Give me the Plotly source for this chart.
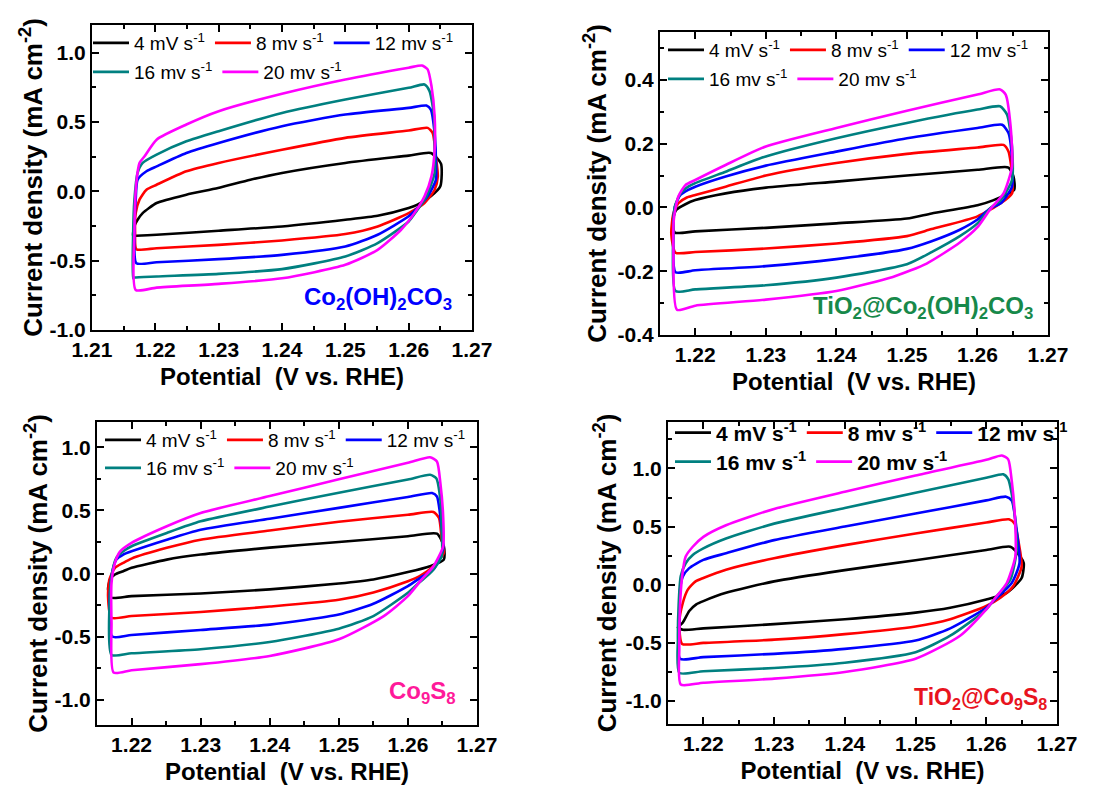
import plotly.graph_objects as go

# ---------------- data ----------------
RATE_LABELS = ["4 mV s<sup>-1</sup>", "8 mv s<sup>-1</sup>", "12 mv s<sup>-1</sup>",
               "16 mv s<sup>-1</sup>", "20 mv s<sup>-1</sup>"]
SAMPLES = ["Co<sub>2</sub>(OH)<sub>2</sub>CO<sub>3</sub>",
           "TiO<sub>2</sub>@Co<sub>2</sub>(OH)<sub>2</sub>CO<sub>3</sub>",
           "Co<sub>9</sub>S<sub>8</sub>",
           "TiO<sub>2</sub>@Co<sub>9</sub>S<sub>8</sub>"]

# y tick values of each panel (labels printed with a plain hyphen as in the reference)
P1_YTICKS = [-1.0, -0.5, 0.0, 0.5, 1.0]
P2_YTICKS = [-0.4, -0.2, 0.0, 0.2, 0.4]
P3_YTICKS = [-1.0, -0.5, 0.0, 0.5, 1.0]
P4_YTICKS = [-1.0, -0.5, 0.0, 0.5, 1.0]

# Panel 1: Co2(OH)2CO3
P1_X_4 = [1.2165, 1.2167, 1.2172, 1.2180, 1.2202, 1.2249, 1.2299, 1.2350, 1.2400, 1.2500, 1.2600, 1.2635, 1.2651, 1.2650, 1.2635, 1.2614, 1.2600, 1.2551, 1.2500, 1.2400, 1.2300, 1.2202, 1.2170, 1.2165]
P1_Y_4 = [-0.320, -0.250, -0.205, -0.157, -0.084, -0.024, 0.024, 0.084, 0.133, 0.205, 0.258, 0.277, 0.200, 0.036, -0.036, -0.096, -0.120, -0.176, -0.205, -0.253, -0.284, -0.313, -0.320, -0.320]
P1_X_8 = [1.2170, 1.2168, 1.2169, 1.2175, 1.2186, 1.2202, 1.2249, 1.2300, 1.2400, 1.2500, 1.2600, 1.2630, 1.2638, 1.2643, 1.2646, 1.2641, 1.2625, 1.2600, 1.2551, 1.2500, 1.2400, 1.2300, 1.2202, 1.2170]
P1_Y_8 = [-0.417, -0.300, -0.157, -0.060, 0.012, 0.048, 0.145, 0.205, 0.300, 0.386, 0.439, 0.458, 0.420, 0.250, 0.108, 0.012, -0.084, -0.157, -0.253, -0.308, -0.354, -0.386, -0.410, -0.417]
P1_X_12 = [1.2170, 1.2167, 1.2169, 1.2172, 1.2186, 1.2202, 1.2249, 1.2300, 1.2400, 1.2500, 1.2600, 1.2628, 1.2635, 1.2641, 1.2643, 1.2643, 1.2630, 1.2614, 1.2600, 1.2551, 1.2500, 1.2400, 1.2300, 1.2202, 1.2170]
P1_Y_12 = [-0.518, -0.300, -0.060, 0.084, 0.145, 0.180, 0.277, 0.349, 0.470, 0.554, 0.602, 0.619, 0.590, 0.420, 0.229, 0.084, -0.036, -0.120, -0.180, -0.313, -0.398, -0.458, -0.489, -0.511, -0.518]
P1_X_16 = [1.2165, 1.2165, 1.2167, 1.2172, 1.2180, 1.2202, 1.2249, 1.2300, 1.2400, 1.2500, 1.2600, 1.2625, 1.2633, 1.2640, 1.2641, 1.2641, 1.2628, 1.2612, 1.2600, 1.2551, 1.2500, 1.2400, 1.2300, 1.2202, 1.2167, 1.2165]
P1_Y_16 = [-0.627, -0.300, -0.060, 0.133, 0.205, 0.265, 0.361, 0.434, 0.566, 0.663, 0.747, 0.771, 0.723, 0.542, 0.300, 0.133, -0.036, -0.145, -0.217, -0.373, -0.470, -0.561, -0.595, -0.614, -0.622, -0.627]
P1_X_20 = [1.2169, 1.2167, 1.2170, 1.2175, 1.2183, 1.2202, 1.2249, 1.2300, 1.2400, 1.2500, 1.2600, 1.2621, 1.2630, 1.2636, 1.2641, 1.2641, 1.2636, 1.2625, 1.2609, 1.2588, 1.2551, 1.2500, 1.2400, 1.2300, 1.2202, 1.2169]
P1_Y_20 = [-0.711, -0.300, 0.060, 0.205, 0.253, 0.373, 0.482, 0.578, 0.704, 0.807, 0.892, 0.908, 0.880, 0.760, 0.542, 0.300, 0.108, -0.036, -0.157, -0.277, -0.422, -0.530, -0.627, -0.667, -0.694, -0.711]

# Panel 2: TiO2@Co2(OH)2CO3
P2_X_4 = [1.2171, 1.2168, 1.2173, 1.2186, 1.2200, 1.2243, 1.2300, 1.2400, 1.2500, 1.2600, 1.2644, 1.2651, 1.2652, 1.2623, 1.2600, 1.2535, 1.2500, 1.2400, 1.2300, 1.2200, 1.2171]
P2_Y_4 = [-0.079, -0.040, -0.008, 0.010, 0.023, 0.044, 0.062, 0.081, 0.100, 0.118, 0.125, 0.097, 0.055, 0.023, 0.007, -0.019, -0.035, -0.050, -0.064, -0.075, -0.079]
P2_X_8 = [1.2172, 1.2166, 1.2169, 1.2176, 1.2188, 1.2200, 1.2243, 1.2300, 1.2400, 1.2500, 1.2600, 1.2637, 1.2644, 1.2649, 1.2649, 1.2633, 1.2600, 1.2535, 1.2500, 1.2400, 1.2300, 1.2200, 1.2172]
P2_Y_8 = [-0.142, -0.082, -0.019, 0.013, 0.031, 0.039, 0.065, 0.100, 0.139, 0.168, 0.188, 0.196, 0.175, 0.107, 0.044, 0.013, -0.028, -0.068, -0.090, -0.113, -0.129, -0.140, -0.142]
P2_X_12 = [1.2172, 1.2169, 1.2171, 1.2179, 1.2190, 1.2200, 1.2243, 1.2300, 1.2400, 1.2500, 1.2600, 1.2635, 1.2644, 1.2649, 1.2649, 1.2633, 1.2618, 1.2600, 1.2575, 1.2535, 1.2500, 1.2400, 1.2300, 1.2200, 1.2172]
P2_Y_12 = [-0.203, -0.080, 0.002, 0.039, 0.055, 0.065, 0.097, 0.131, 0.175, 0.217, 0.249, 0.259, 0.233, 0.149, 0.065, 0.013, -0.003, -0.038, -0.070, -0.106, -0.130, -0.162, -0.184, -0.197, -0.203]
P2_X_16 = [1.2172, 1.2169, 1.2171, 1.2179, 1.2190, 1.2200, 1.2243, 1.2300, 1.2400, 1.2500, 1.2600, 1.2632, 1.2642, 1.2649, 1.2649, 1.2633, 1.2618, 1.2600, 1.2575, 1.2535, 1.2500, 1.2400, 1.2300, 1.2200, 1.2172]
P2_Y_16 = [-0.262, -0.082, 0.002, 0.044, 0.065, 0.076, 0.112, 0.160, 0.217, 0.265, 0.307, 0.317, 0.291, 0.191, 0.086, 0.023, -0.003, -0.050, -0.090, -0.140, -0.178, -0.220, -0.244, -0.257, -0.262]
P2_X_20 = [1.2174, 1.2169, 1.2170, 1.2176, 1.2186, 1.2200, 1.2243, 1.2300, 1.2400, 1.2500, 1.2600, 1.2632, 1.2640, 1.2647, 1.2649, 1.2637, 1.2618, 1.2600, 1.2575, 1.2528, 1.2480, 1.2400, 1.2300, 1.2200, 1.2174]
P2_Y_20 = [-0.321, -0.134, -0.029, 0.034, 0.070, 0.086, 0.133, 0.191, 0.249, 0.303, 0.354, 0.370, 0.354, 0.254, 0.128, 0.044, -0.006, -0.062, -0.110, -0.176, -0.218, -0.262, -0.289, -0.308, -0.321]

# Panel 3: Co9S8
P3_X_4 = [1.2171, 1.2166, 1.2169, 1.2176, 1.2188, 1.2200, 1.2251, 1.2300, 1.2400, 1.2500, 1.2600, 1.2642, 1.2652, 1.2652, 1.2632, 1.2600, 1.2550, 1.2500, 1.2400, 1.2300, 1.2200, 1.2171]
P3_Y_4 = [-0.192, -0.126, -0.047, -0.008, 0.018, 0.045, 0.110, 0.150, 0.205, 0.250, 0.295, 0.316, 0.216, 0.110, 0.058, 0.011, -0.047, -0.079, -0.126, -0.158, -0.179, -0.192]
P3_X_8 = [1.2171, 1.2166, 1.2168, 1.2176, 1.2188, 1.2200, 1.2251, 1.2300, 1.2400, 1.2500, 1.2600, 1.2637, 1.2645, 1.2649, 1.2652, 1.2637, 1.2617, 1.2600, 1.2550, 1.2500, 1.2400, 1.2300, 1.2200, 1.2171]
P3_Y_8 = [-0.350, -0.179, -0.047, 0.045, 0.084, 0.118, 0.203, 0.268, 0.340, 0.410, 0.465, 0.487, 0.440, 0.268, 0.163, 0.058, -0.021, -0.061, -0.150, -0.208, -0.262, -0.305, -0.337, -0.350]
P3_X_12 = [1.2172, 1.2168, 1.2171, 1.2178, 1.2188, 1.2200, 1.2251, 1.2300, 1.2400, 1.2500, 1.2600, 1.2635, 1.2642, 1.2648, 1.2651, 1.2637, 1.2618, 1.2600, 1.2550, 1.2500, 1.2400, 1.2300, 1.2200, 1.2172]
P3_Y_12 = [-0.500, -0.258, -0.021, 0.110, 0.150, 0.176, 0.268, 0.347, 0.434, 0.520, 0.606, 0.637, 0.610, 0.400, 0.190, 0.032, -0.034, -0.100, -0.240, -0.325, -0.405, -0.447, -0.487, -0.500]
P3_X_16 = [1.2171, 1.2168, 1.2171, 1.2178, 1.2188, 1.2200, 1.2251, 1.2300, 1.2400, 1.2500, 1.2600, 1.2632, 1.2641, 1.2647, 1.2649, 1.2649, 1.2635, 1.2616, 1.2600, 1.2550, 1.2500, 1.2400, 1.2300, 1.2200, 1.2171]
P3_Y_16 = [-0.645, -0.258, -0.021, 0.124, 0.176, 0.216, 0.321, 0.413, 0.530, 0.640, 0.745, 0.782, 0.755, 0.584, 0.321, 0.137, 0.018, -0.074, -0.153, -0.337, -0.437, -0.542, -0.600, -0.632, -0.645]
P3_X_20 = [1.2174, 1.2171, 1.2171, 1.2176, 1.2183, 1.2200, 1.2251, 1.2300, 1.2400, 1.2500, 1.2600, 1.2632, 1.2642, 1.2647, 1.2651, 1.2651, 1.2637, 1.2620, 1.2600, 1.2565, 1.2500, 1.2400, 1.2300, 1.2200, 1.2174]
P3_Y_20 = [-0.784, -0.389, -0.074, 0.084, 0.171, 0.242, 0.374, 0.479, 0.613, 0.746, 0.877, 0.921, 0.887, 0.716, 0.453, 0.216, 0.058, -0.047, -0.179, -0.337, -0.521, -0.653, -0.718, -0.766, -0.784]

# Panel 4: TiO2@Co9S8
P4_X_4 = [1.2171, 1.2164, 1.2171, 1.2180, 1.2190, 1.2200, 1.2232, 1.2300, 1.2400, 1.2500, 1.2600, 1.2634, 1.2648, 1.2653, 1.2650, 1.2629, 1.2600, 1.2549, 1.2500, 1.2400, 1.2300, 1.2200, 1.2171]
P4_Y_4 = [-0.389, -0.369, -0.326, -0.227, -0.170, -0.142, -0.071, 0.028, 0.125, 0.210, 0.298, 0.326, 0.241, 0.184, 0.057, -0.071, -0.128, -0.199, -0.241, -0.298, -0.340, -0.377, -0.389]
P4_X_8 = [1.2170, 1.2166, 1.2171, 1.2178, 1.2189, 1.2200, 1.2232, 1.2300, 1.2400, 1.2500, 1.2600, 1.2632, 1.2640, 1.2646, 1.2650, 1.2638, 1.2620, 1.2600, 1.2549, 1.2500, 1.2400, 1.2300, 1.2200, 1.2170]
P4_Y_8 = [-0.511, -0.326, -0.156, -0.043, 0.028, 0.057, 0.128, 0.227, 0.340, 0.440, 0.535, 0.562, 0.525, 0.355, 0.156, -0.014, -0.113, -0.184, -0.298, -0.360, -0.426, -0.474, -0.502, -0.511]
P4_X_12 = [1.2167, 1.2166, 1.2167, 1.2171, 1.2180, 1.2200, 1.2232, 1.2300, 1.2400, 1.2500, 1.2600, 1.2628, 1.2636, 1.2643, 1.2647, 1.2636, 1.2615, 1.2600, 1.2549, 1.2500, 1.2400, 1.2300, 1.2200, 1.2167]
P4_Y_12 = [-0.638, -0.326, -0.043, 0.071, 0.142, 0.213, 0.270, 0.383, 0.500, 0.612, 0.725, 0.757, 0.723, 0.468, 0.184, 0.014, -0.113, -0.199, -0.377, -0.482, -0.553, -0.596, -0.624, -0.638]
P4_X_16 = [1.2166, 1.2164, 1.2165, 1.2168, 1.2175, 1.2185, 1.2200, 1.2232, 1.2300, 1.2400, 1.2500, 1.2600, 1.2624, 1.2631, 1.2639, 1.2643, 1.2634, 1.2613, 1.2600, 1.2549, 1.2500, 1.2400, 1.2300, 1.2200, 1.2166]
P4_Y_16 = [-0.760, -0.468, -0.184, 0.071, 0.184, 0.255, 0.312, 0.397, 0.525, 0.660, 0.790, 0.920, 0.950, 0.908, 0.667, 0.298, 0.043, -0.113, -0.213, -0.440, -0.582, -0.672, -0.718, -0.746, -0.760]
P4_X_20 = [1.2168, 1.2166, 1.2167, 1.2170, 1.2175, 1.2185, 1.2200, 1.2232, 1.2300, 1.2400, 1.2500, 1.2600, 1.2622, 1.2631, 1.2636, 1.2641, 1.2641, 1.2629, 1.2611, 1.2600, 1.2563, 1.2500, 1.2400, 1.2300, 1.2200, 1.2168]
P4_Y_20 = [-0.860, -0.553, -0.184, 0.071, 0.241, 0.326, 0.411, 0.511, 0.652, 0.800, 0.940, 1.075, 1.112, 1.078, 0.894, 0.525, 0.241, 0.014, -0.128, -0.213, -0.440, -0.638, -0.752, -0.809, -0.845, -0.860]

X_TICK_FORMAT = ".2f"

# ---------------- styling / layout ----------------
W, H = 1107, 791
FONT = "Liberation Sans, Arial, sans-serif"
COLORS = ["#000000", "#ff0000", "#0000ff", "#008080", "#ff00ff"]

PANELS = [
    dict(xs=[P1_X_4, P1_X_8, P1_X_12, P1_X_16, P1_X_20],
         ys=[P1_Y_4, P1_Y_8, P1_Y_12, P1_Y_16, P1_Y_20], yticks=P1_YTICKS,
         box=(92, 472, 25, 330), xr=[1.21, 1.27], yr=[-1.0, 1.2], ymin=0.25,
         label_color="#0000ff", label_xy=(378, 298), label_size=24,
         leg_x=88, leg_rows=(43, 72), leg_size=19, leg_bold=False, ystand=0),
    dict(xs=[P2_X_4, P2_X_8, P2_X_12, P2_X_16, P2_X_20],
         ys=[P2_Y_4, P2_Y_8, P2_Y_12, P2_Y_16, P2_Y_20], yticks=P2_YTICKS,
         box=(660, 1048, 32, 335), xr=[1.215, 1.27], yr=[-0.4, 0.55], ymin=0.1,
         label_color="#17894a", label_xy=(923, 307), label_size=24,
         leg_x=663, leg_rows=(50, 79), leg_size=19, leg_bold=False, ystand=4),
    dict(xs=[P3_X_4, P3_X_8, P3_X_12, P3_X_16, P3_X_20],
         ys=[P3_Y_4, P3_Y_8, P3_Y_12, P3_Y_16, P3_Y_20], yticks=P3_YTICKS,
         box=(97, 477, 422, 725), xr=[1.215, 1.27], yr=[-1.2, 1.2], ymin=0.25,
         label_color="#ff1a9a", label_xy=(422, 692), label_size=24,
         leg_x=100, leg_rows=(440, 468), leg_size=19, leg_bold=False, ystand=0),
    dict(xs=[P4_X_4, P4_X_8, P4_X_12, P4_X_16, P4_X_20],
         ys=[P4_Y_4, P4_Y_8, P4_Y_12, P4_Y_16, P4_Y_20], yticks=P4_YTICKS,
         box=(668, 1057, 422, 724), xr=[1.215, 1.27], yr=[-1.2, 1.4], ymin=0.25,
         label_color="#e8141e", label_xy=(980, 698), label_size=23,
         leg_x=670, leg_rows=(433, 462), leg_size=21, leg_bold=True, ystand=2),
]

fig = go.Figure()
layout = dict(width=W, height=H, margin=dict(l=0, r=0, t=0, b=0, autoexpand=False),
              paper_bgcolor="white", plot_bgcolor="white",
              font=dict(family=FONT, color="black"), annotations=[])

for p, pan in enumerate(PANELS, start=1):
    xa = "x" if p == 1 else f"x{p}"
    ya = "y" if p == 1 else f"y{p}"
    leg1 = 2 * p - 1
    leg2 = 2 * p
    for i in range(5):
        lg = leg1 if i < 3 else leg2
        fig.add_trace(go.Scatter(
            x=pan["xs"][i], y=pan["ys"][i], mode="lines", name=RATE_LABELS[i],
            line=dict(color=COLORS[i], width=2.6, shape="spline", smoothing=0.6),
            xaxis=xa, yaxis=ya,
            legend="legend" if lg == 1 else f"legend{lg}",
        ))
    x0, x1, y0, y1 = pan["box"]
    common = dict(showline=True, linecolor="black", linewidth=2, mirror="ticks",
                  ticks="inside", ticklen=7, tickwidth=2, tickcolor="black",
                  showgrid=False, zeroline=False, automargin=False,
                  tickfont=dict(family=FONT, size=21, color="black", weight="bold"))
    layout["xaxis" if p == 1 else f"xaxis{p}"] = dict(
        common, domain=[x0 / W, x1 / W], range=pan["xr"], anchor=ya,
        tick0=1.21, dtick=0.01, tickformat=X_TICK_FORMAT,
        minor=dict(dtick=0.005, ticks="inside", ticklen=4, tickwidth=2, tickcolor="black"),
        title=dict(text="Potential\u00a0\u00a0(V vs. RHE)", standoff=8,
                   font=dict(family=FONT, size=24, color="black", weight="bold")))
    layout["yaxis" if p == 1 else f"yaxis{p}"] = dict(
        common, domain=[1 - y1 / H, 1 - y0 / H], range=pan["yr"], anchor=xa,
        tickmode="array", tickvals=pan["yticks"],
        ticktext=[f"{v:.1f}" for v in pan["yticks"]],
        minor=dict(tick0=0, dtick=pan["ymin"], ticks="inside", ticklen=4, tickwidth=2,
                   tickcolor="black"),
        title=dict(text="Current density (mA cm<sup>-2</sup>)", standoff=pan["ystand"],
                   font=dict(family=FONT, size=26, color="black", weight="bold")))
    for k, lg in enumerate((leg1, leg2)):
        layout["legend" if lg == 1 else f"legend{lg}"] = dict(
            orientation="h", x=pan["leg_x"] / W, y=1 - pan["leg_rows"][k] / H,
            xanchor="left", yanchor="middle", bgcolor="rgba(0,0,0,0)",
            itemwidth=36,
            font=dict(family=FONT, size=pan["leg_size"], color="black",
                      weight="bold" if pan["leg_bold"] else "normal"),
            tracegroupgap=0)
    lx, ly = pan["label_xy"]
    layout["annotations"].append(dict(
        text=SAMPLES[p - 1], xref="paper", yref="paper", x=lx / W, y=1 - ly / H,
        xanchor="center", yanchor="middle", showarrow=False,
        font=dict(family=FONT, size=pan["label_size"], color=pan["label_color"], weight="bold")))

fig.update_layout(**layout)
fig.write_html("out.html")
